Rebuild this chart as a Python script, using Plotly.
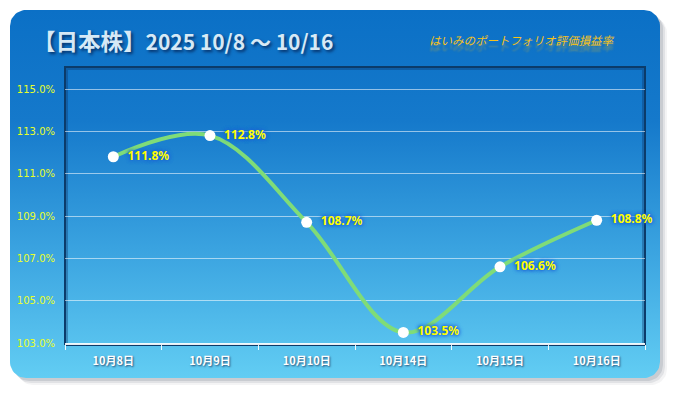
import numpy as np
import plotly.graph_objects as go

# ---- data ----
categories = ["10月8日", "10月9日", "10月10日", "10月14日", "10月15日", "10月16日"]
values = [111.8, 112.8, 108.7, 103.5, 106.6, 108.8]
labels = [f"{v:.1f}%" for v in values]
title_head = "【日本株】"
title_tail = "2025 10/8 〜 10/16"
subtitle_text = "はいみのポートフォリオ評価損益率"

W, H = 675, 393


def rrect(x0, y0, x1, y1, r, n=14):
    """Rounded rectangle outline, pixel coords (y down) -> figure coords (y up)."""
    xs, ys = [], []
    corners = [
        (x1 - r, y0 + r, -90, 0),
        (x1 - r, y1 - r, 0, 90),
        (x0 + r, y1 - r, 90, 180),
        (x0 + r, y0 + r, 180, 270),
    ]
    for cx, cy, a0, a1 in corners:
        for a in np.linspace(np.radians(a0), np.radians(a1), n):
            xs.append(cx + r * np.cos(a))
            ys.append(H - (cy + r * np.sin(a)))
    xs.append(xs[0])
    ys.append(ys[0])
    return xs, ys


def fx(p):
    return p / W


def fy(p):
    return 1 - p / H


fig = go.Figure()

# shadow of card
for off, alpha in [(7, 0.06), (5, 0.10), (3, 0.14)]:
    sx, sy = rrect(10 + off, 10 + off, 660 + off, 378 + off, 16)
    fig.add_trace(go.Scatter(x=sx, y=sy, mode="lines", fill="toself",
                             fillcolor=f"rgba(60,70,90,{alpha})",
                             line=dict(width=0), hoverinfo="skip",
                             showlegend=False, xaxis="x", yaxis="y"))

# card with vertical gradient
cx, cy = rrect(10, 10, 660, 378, 16)
fig.add_trace(go.Scatter(
    x=cx, y=cy, mode="lines", fill="toself",
    fillgradient=dict(type="vertical", start=H - 378, stop=H - 10,
                      colorscale=[[0, "#62cdf3"], [0.35, "#3aa3e0"],
                                  [0.7, "#1579cb"], [1, "#0b70c6"]]),
    line=dict(width=0), hoverinfo="skip", showlegend=False,
    xaxis="x", yaxis="y"))

px0, px1, py0, py1 = 65, 645, 67, 343

# plot-area frame (drawn beneath the data layer)
fig.add_trace(go.Scatter(
    x=[px0, px0, px1, px1, px0], y=[H - py1 - 2, H - py0, H - py0, H - py1 - 2, H - py1 - 2],
    mode="lines", line=dict(color="#0b3b6a", width=2),
    hoverinfo="skip", showlegend=False, xaxis="x", yaxis="y"))
fig.add_trace(go.Scatter(
    x=[px0 + 2, px0 + 2, px1 - 2, px1 - 2], y=[H - py1, H - py0 - 2, H - py0 - 2, H - py1],
    mode="lines", line=dict(color="rgba(10,50,100,0.35)", width=2),
    hoverinfo="skip", showlegend=False, xaxis="x", yaxis="y"))

# main data series
fig.add_trace(go.Scatter(
    x=categories, y=values, mode="lines+markers+text",
    line=dict(color="#7fdc78", width=4, shape="spline", smoothing=1.0),
    marker=dict(color="white", size=11, line=dict(width=0)),
    text=labels, texttemplate="\u00a0\u00a0%{text}", textposition="middle right",
    textfont=dict(family="Noto Sans", size=12, color="#ffff00", weight="bold",
                  shadow="0 0 4px #1d63d6, 0 0 4px #1d63d6, 0 0 3px #1d63d6"),
    hoverinfo="skip", showlegend=False, xaxis="x2", yaxis="y2", cliponaxis=False))

fig.update_layout(
    width=W, height=H,
    margin=dict(l=0, r=0, t=0, b=0, autoexpand=False),
    paper_bgcolor="white", plot_bgcolor="rgba(0,0,0,0)",
    xaxis=dict(domain=[0, 1], range=[0, W], visible=False, fixedrange=True),
    yaxis=dict(domain=[0, 1], range=[0, H], visible=False, fixedrange=True),
    xaxis2=dict(domain=[fx(px0), fx(px1)], anchor="y2", type="category",
                range=[-0.5, len(categories) - 0.5], showgrid=False,
                showline=True, linecolor="rgba(255,255,255,0.9)", linewidth=2,
                ticks="outside", tickson="boundaries", ticklen=5,
                tickcolor="rgba(255,255,255,0.9)", tickwidth=1,
                ticklabelstandoff=7, automargin=False,
                tickfont=dict(family="Noto Sans CJK JP", size=11, color="white",
                              weight="bold", shadow="1px 1px 2px rgba(0,0,40,0.6)"),
                zeroline=False, fixedrange=True),
    yaxis2=dict(domain=[fy(py1), fy(py0)], anchor="x2",
                range=[103, 116.04], tick0=103, dtick=2,
                tickformat=".1f", ticksuffix="%",
                showgrid=True, gridcolor="rgba(255,255,255,0.55)", gridwidth=1,
                showline=False, zeroline=False, ticks="",
                ticklabelstandoff=9, automargin=False,
                tickfont=dict(family="DejaVu Sans", size=10, color="#e8ff2a"),
                fixedrange=True),
    annotations=[
        dict(text=f"<span style='font-size:22.5px'>{title_head}</span>{title_tail}",
             xref="paper", yref="paper", x=fx(31), y=fy(40),
             xanchor="left", yanchor="middle", showarrow=False,
             font=dict(family="Noto Sans CJK JP", size=21, color="#d6e9f6",
                       weight="bold", shadow="2px 2px 3px rgba(0,10,50,0.6)")),
        dict(text=subtitle_text, xref="paper", yref="paper", x=fx(521), y=fy(40),
             xanchor="center", yanchor="middle", showarrow=False,
             font=dict(family="Noto Sans CJK JP", size=11.5, color="#f7c21a",
                       style="italic", shadow="0 6px 2px rgba(247,194,26,0.35)")),
    ],
)

fig.write_html(
    "out.html",
    config={"displayModeBar": False},
    post_script="document.body.style.margin='0';document.body.style.overflow='hidden';",
)
